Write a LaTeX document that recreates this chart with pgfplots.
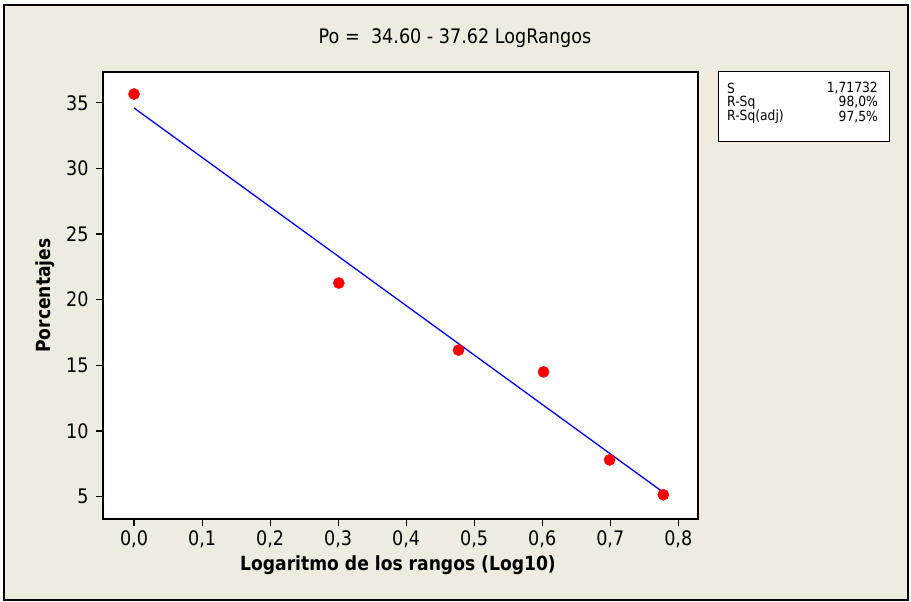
\documentclass[border=0pt]{standalone}
\usepackage{pgfplots}
\pgfplotsset{compat=1.18}
\usepackage{fontspec}
\setmainfont{DejaVu Sans}[FakeStretch=0.88]
\definecolor{bg}{RGB}{239,235,225}
\begin{document}
\begin{tikzpicture}[x=1pt,y=1pt]
\useasboundingbox (0,0) rectangle (911,602);
\fill[white] (0,0) rectangle (911,602);
\draw[line width=1.3pt, fill=bg] (4,2) rectangle (908,597);
\begin{axis}[
 at={(103pt,83pt)}, anchor=south west,
 scale only axis, width=595pt, height=447pt,
 xmin=-0.0456, xmax=0.829, ymin=3.30, ymax=37.34,
 axis background/.style={fill=white},
 axis line style={line width=1.1pt},
 tick align=outside, major tick length=7pt,
 every tick/.style={black, line width=1.1pt},
 xtick pos=bottom, ytick pos=left,
 xtick={0,0.1,0.2,0.3,0.4,0.5,0.6,0.7,0.8},
 xticklabels={{0,0},{0,1},{0,2},{0,3},{0,4},{0,5},{0,6},{0,7},{0,8}},
 ytick={5,10,15,20,25,30,35},
 yticklabels={5,10,15,20,25,30,35},
 tick label style={font=\fontsize{20}{24}\selectfont},
 xticklabel style={anchor=center, yshift=-13pt},
 yticklabel style={anchor=east, xshift=-4pt},
 xlabel={\bfseries Logaritmo de los rangos (Log10)},
 ylabel={\bfseries Porcentajes},
 label style={font=\fontsize{19.5}{23}\selectfont},
 xlabel style={at={(axis description cs:0.4958,-0.1029)}, anchor=center},
 ylabel style={at={(axis description cs:-0.0975,0.5)}, anchor=center},
 title={Po =\ \ 34.60 - 37.62 LogRangos},
 title style={font=\fontsize{20}{24}\selectfont, at={(axis description cs:0.5916,1.0633)}, anchor=center},
]
\addplot[blue, line width=1.3pt, no marks] coordinates {(0,34.60) (0.778,5.33)};
\addplot[only marks, mark=*, mark size=5.6pt, color=red, mark options={fill=red, draw=red}] coordinates {
(0,35.66) (0.301,21.27) (0.477,16.16) (0.602,14.5) (0.699,7.8) (0.778,5.15)};
\end{axis}
\draw[line width=1pt, fill=white] (718,460) rectangle (889,530);
\begin{scope}[every node/.style={font=\fontsize{14}{16}\selectfont, inner sep=0pt}]
\node[anchor=west] at (727,514) {S};
\node[anchor=west] at (727,499.5) {R-Sq};
\node[anchor=west] at (727,485) {R-Sq(adj)};
\node[anchor=east] at (878,514) {1,71732};
\node[anchor=east] at (878,499.5) {98,0\%};
\node[anchor=east] at (878,485) {97,5\%};
\end{scope}
\end{tikzpicture}
\end{document}
